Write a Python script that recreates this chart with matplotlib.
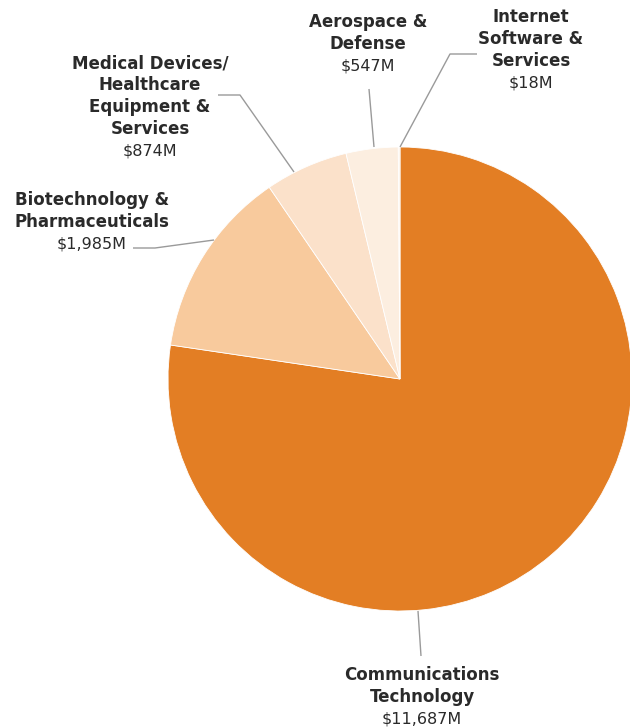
import matplotlib.pyplot as plt

# Capital raised by sector, millions of USD
sectors = [
    "Communications\nTechnology",
    "Biotechnology &\nPharmaceuticals",
    "Medical Devices/\nHealthcare\nEquipment &\nServices",
    "Aerospace &\nDefense",
    "Internet\nSoftware &\nServices",
]
values = [11687, 1985, 874, 547, 18]
value_labels = ["$11,687M", "$1,985M", "$874M", "$547M", "$18M"]
colors = ["#E37E24", "#F8CA9D", "#FBE1CA", "#FCEEE0", "#FDF2E8"]

W, H = 630, 727
fig = plt.figure(figsize=(W / 100, H / 100), dpi=100)
ax = fig.add_axes([0, 0, 1, 1])

cx, cy, r = 400, H - 379, 232
ax.pie(values, colors=colors, startangle=90, counterclock=False,
       center=(cx, cy), radius=r, frame=True,
       wedgeprops=dict(edgecolor="white", linewidth=0.6))
ax.set_xlim(0, W)
ax.set_ylim(0, H)
ax.set_aspect("equal")
ax.axis("off")

text_color = "#2A2A2A"
line_color = "#9A9A9A"
font = "DejaVu Sans"
line_h = 22

# label anchor (center x, top line y in px from top), leader polyline (px from top)
label_pos = [
    (422, 675, [(418, 611), (421, 656)]),
    (92, 200, [(133, 248), (155, 248), (214, 240)]),
    (150, 63, [(218, 95), (240, 95), (294, 172)]),
    (368, 22, [(369, 89), (374, 147)]),
    (531, 17, [(477, 54), (450, 54), (400, 147)]),
]

for name, val, (lx, ly, pts) in zip(sectors, value_labels, label_pos):
    lines = name.split("\n")
    for i, ln in enumerate(lines):
        ax.text(lx, H - (ly + i * line_h), ln, ha="center", va="center",
                fontsize=12, fontweight="bold", color=text_color, family=font)
    vy = ly + len(lines) * line_h
    ax.text(lx, H - vy, val, ha="center", va="center",
            fontsize=11.5, color=text_color, family=font)
    xs = [p[0] for p in pts]
    ys = [H - p[1] for p in pts]
    ax.plot(xs, ys, color=line_color, lw=1, solid_capstyle="butt")

fig.savefig("out.png", dpi=100)
